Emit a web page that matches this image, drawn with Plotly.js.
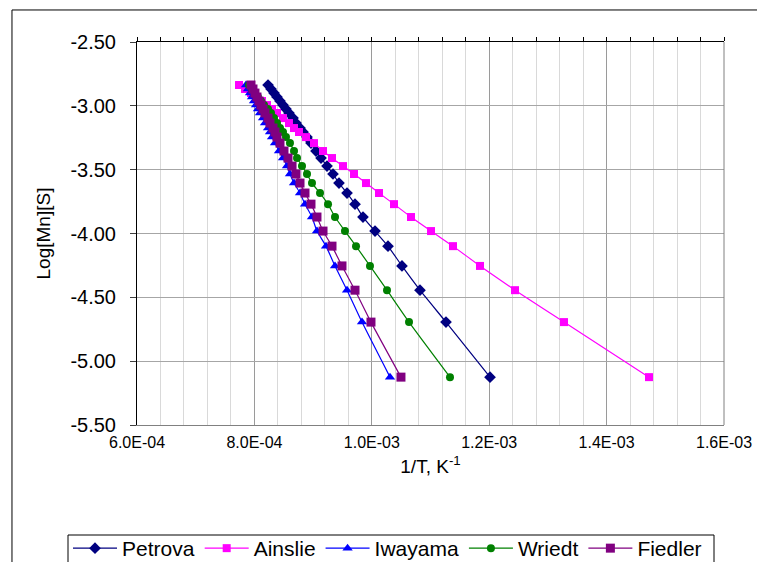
<!DOCTYPE html>
<html>
<head>
<meta charset="utf-8">
<script src="https://cdn.plot.ly/plotly-3.0.1.min.js"></script>
<style>html,body{margin:0;padding:0;background:#fff;overflow:hidden;}#chart{width:757px;height:585px;}</style>
</head>
<body>
<div id="chart"></div>
<script>
// Shared log[Mn][S] values (y) for every series
const logMnS = [-2.837, -2.868, -2.900, -2.931, -2.962, -2.994, -3.025, -3.056, -3.096, -3.135,
  -3.174, -3.205, -3.245, -3.292, -3.354, -3.409, -3.472, -3.534, -3.605, -3.683,
  -3.770, -3.871, -3.981, -4.099, -4.254, -4.444, -4.694, -5.125];

// 1/T values (K^-1) for each model
const petrova = [8.232e-4, 8.283e-4, 8.334e-4, 8.385e-4, 8.436e-4, 8.487e-4, 8.538e-4, 8.589e-4, 8.658e-4, 8.709e-4,
  8.777e-4, 8.828e-4, 8.896e-4, 8.964e-4, 9.049e-4, 9.135e-4, 9.237e-4, 9.339e-4, 9.441e-4, 9.578e-4,
  9.714e-4, 9.850e-4, 1.0055e-3, 1.0276e-3, 1.0514e-3, 1.0821e-3, 1.1264e-3, 1.2014e-3];
const ainslie = [7.738e-4, 7.840e-4, 7.942e-4, 8.027e-4, 8.129e-4, 8.215e-4, 8.300e-4, 8.385e-4, 8.487e-4, 8.589e-4,
  8.675e-4, 8.760e-4, 8.879e-4, 9.015e-4, 9.169e-4, 9.322e-4, 9.509e-4, 9.697e-4, 9.901e-4, 1.0123e-3,
  1.0378e-3, 1.0668e-3, 1.1009e-3, 1.1383e-3, 1.1843e-3, 1.2440e-3, 1.3274e-3, 1.4722e-3];
const iwayama = [7.857e-4, 7.891e-4, 7.925e-4, 7.959e-4, 7.993e-4, 8.027e-4, 8.061e-4, 8.095e-4, 8.147e-4, 8.181e-4,
  8.232e-4, 8.266e-4, 8.300e-4, 8.351e-4, 8.419e-4, 8.487e-4, 8.555e-4, 8.606e-4, 8.675e-4, 8.777e-4,
  8.862e-4, 8.981e-4, 9.066e-4, 9.220e-4, 9.373e-4, 9.578e-4, 9.833e-4, 1.0310e-3];
const wriedt = [7.908e-4, 7.959e-4, 8.010e-4, 8.061e-4, 8.112e-4, 8.164e-4, 8.232e-4, 8.283e-4, 8.334e-4, 8.385e-4,
  8.436e-4, 8.487e-4, 8.538e-4, 8.606e-4, 8.675e-4, 8.726e-4, 8.811e-4, 8.896e-4, 8.981e-4, 9.118e-4,
  9.254e-4, 9.373e-4, 9.543e-4, 9.731e-4, 9.969e-4, 1.0259e-3, 1.0634e-3, 1.1332e-3];
const fiedler = [7.942e-4, 7.976e-4, 8.010e-4, 8.044e-4, 8.078e-4, 8.112e-4, 8.147e-4, 8.181e-4, 8.232e-4, 8.266e-4,
  8.317e-4, 8.351e-4, 8.385e-4, 8.436e-4, 8.504e-4, 8.572e-4, 8.641e-4, 8.709e-4, 8.777e-4, 8.862e-4,
  8.964e-4, 9.066e-4, 9.169e-4, 9.322e-4, 9.492e-4, 9.714e-4, 9.986e-4, 1.0497e-3];

const seriesNames = ['Petrova', 'Ainslie', 'Iwayama', 'Wriedt', 'Fiedler'];
const xTickVals = [6e-4, 8e-4, 1e-3, 1.2e-3, 1.4e-3, 1.6e-3];
const xTickText = ['6.0E-04', '8.0E-04', '1.0E-03', '1.2E-03', '1.4E-03', '1.6E-03'];
const yTickVals = [-2.5, -3.0, -3.5, -4.0, -4.5, -5.0, -5.5];
const yTickText = ['-2.50', '-3.00', '-3.50', '-4.00', '-4.50', '-5.00', '-5.50'];

const styles = [
  {color: '#000080', symbol: 'diamond', size: 9},
  {color: '#FF00FF', symbol: 'square', size: 8},
  {color: '#0000FF', symbol: 'triangle-up', size: 9},
  {color: '#008000', symbol: 'circle', size: 8},
  {color: '#800080', symbol: 'square', size: 9}
];
const xs = [petrova, ainslie, iwayama, wriedt, fiedler];

const traces = xs.map((xv, i) => ({
  type: 'scatter', mode: 'lines+markers', name: seriesNames[i],
  x: xv, y: logMnS,
  line: {color: styles[i].color, width: 1.2, shape: 'spline', smoothing: 0.5},
  marker: {color: styles[i].color, symbol: styles[i].symbol, size: styles[i].size}
}));

const FONT = 'Arial, "Liberation Sans", sans-serif';
const H = 585;

const layout = {
  width: 757, height: H,
  margin: {l: 137, r: 33, t: 42, b: H - 425},
  paper_bgcolor: '#ffffff', plot_bgcolor: '#ffffff',
  font: {family: FONT, color: '#000', size: 16},
  showlegend: true,
  legend: {
    orientation: 'h', x: (68 - 137) / 587, y: (425 - 528) / 383, xanchor: 'left', yanchor: 'top',
    bgcolor: 'rgba(0,0,0,0)', borderwidth: 0, font: {family: FONT, size: 21, color: '#000'},
    itemwidth: 44, tracegroupgap: 0
  },
  xaxis: {
    range: [6e-4, 1.6e-3], tickmode: 'array', tickvals: xTickVals, ticktext: xTickText,
    tickfont: {size: 16}, ticks: '', ticklabelstandoff: 3,
    showline: true, linecolor: '#808080', linewidth: 1,
    showgrid: true, gridcolor: '#9a9a9a', gridwidth: 1, zeroline: false,
    minor: {tickmode: 'linear', tick0: 6e-4, dtick: 4e-5, showgrid: true, gridcolor: '#d9d9d9', gridwidth: 1, ticks: ''},
    title: {text: '1/T, K<sup>-1</sup>', font: {size: 19}, standoff: 9},
    automargin: false
  },
  xaxis2: {
    overlaying: 'x', side: 'top', anchor: 'y', range: [6e-4, 1.6e-3],
    tickmode: 'linear', tick0: 6e-4, dtick: 4e-5, ticks: 'outside', ticklen: 4, tickcolor: '#000',
    showticklabels: false, showline: true, linecolor: '#000', linewidth: 1,
    showgrid: false, zeroline: false
  },
  yaxis: {
    range: [-5.5, -2.5], tickmode: 'array', tickvals: yTickVals, ticktext: yTickText,
    tickfont: {size: 20}, ticks: 'outside', ticklen: 6, tickcolor: '#404040', ticklabelstandoff: 10,
    showline: true, linecolor: '#000', linewidth: 1,
    showgrid: true, gridcolor: '#a6a6a6', gridwidth: 1, zeroline: false,
    title: {text: 'Log[Mn][S]', font: {size: 19}, standoff: 14},
    automargin: false
  },
  shapes: [
    {type: 'line', xref: 'paper', yref: 'paper', x0: 1, x1: 1, y0: 0, y1: 1,
     line: {color: '#808080', width: 1}, layer: 'above'},
    {type: 'rect', xref: 'paper', yref: 'paper', x0: -0.213, x1: 1.2, y0: -0.6, y1: 1.0836,
     line: {color: '#000', width: 1}, fillcolor: 'rgba(0,0,0,0)', layer: 'below'},
    {type: 'rect', xref: 'paper', yref: 'paper', x0: (68 - 137) / 587, x1: (714 - 137) / 587,
     y0: -0.5, y1: (425 - 535) / 383,
     line: {color: '#000', width: 1}, fillcolor: 'rgba(0,0,0,0)', layer: 'below'}
  ]
};

traces.push({type: 'scatter', x: [], y: [], xaxis: 'x2', yaxis: 'y', showlegend: false, hoverinfo: 'skip'});

Plotly.newPlot('chart', traces, layout, {staticPlot: true, displayModeBar: false});
</script>
</body>
</html>
